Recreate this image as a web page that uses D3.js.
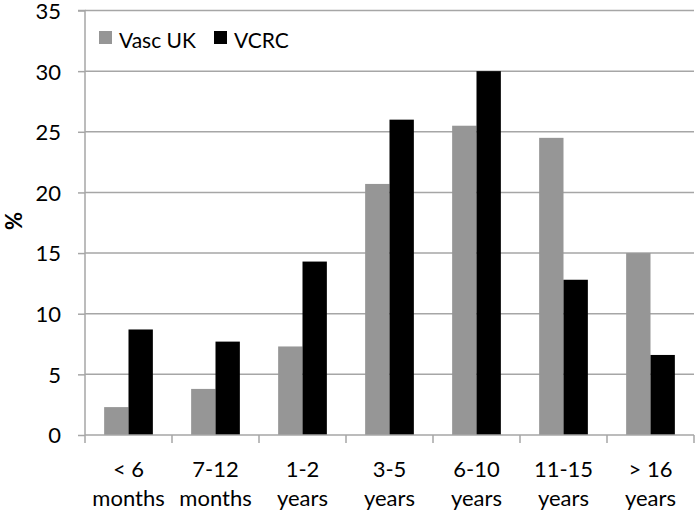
<!DOCTYPE html>
<html><head><meta charset="utf-8">
<script src="https://cdn.jsdelivr.net/npm/d3@7"></script>
<style>body{margin:0;background:#fff}svg{display:block}text{font-family:Lato,"Open Sans",sans-serif;fill:#000}</style>
</head><body><svg id="c" width="700" height="517"></svg>
<script>
const categories = [["< 6","months"],["7-12","months"],["1-2","years"],["3-5","years"],["6-10","years"],["11-15","years"],["> 16","years"]];
const seriesNames = ["Vasc UK","VCRC"];
const vascUK = [2.3, 3.8, 7.3, 20.7, 25.5, 24.5, 15.0];
const vcrc = [8.7, 7.7, 14.3, 26.0, 30.0, 12.8, 6.6];
const yTicks = [0,5,10,15,20,25,30,35];
const colors = ["#969696","#000000"];

const svg = d3.select("#c");
const m = {l:85, r:694, t:10.5, b:435};
const x = d3.scaleBand().domain(d3.range(categories.length)).range([m.l, m.r]).paddingInner(0.44).paddingOuter(0.22);
const x1 = d3.scaleBand().domain([0,1]).range([0, x.bandwidth()]);
const y = d3.scaleLinear().domain([0,35]).range([m.b, m.t]);
const grid = "#a6a6a6";

// gridlines
svg.append("g").selectAll("line").data(yTicks.filter(d=>d>0)).join("line")
  .attr("x1", m.l).attr("x2", m.r).attr("y1", d=>y(d)).attr("y2", d=>y(d))
  .attr("stroke", grid).attr("stroke-width", 1.5);

// y axis
const ya = svg.append("g").attr("transform", `translate(${m.l},0)`)
  .call(d3.axisLeft(y).tickValues(yTicks).tickSize(7).tickPadding(17));
ya.select(".domain").attr("stroke", grid).attr("stroke-width", 1.5).attr("d", `M-7,${y(35)}H0V${m.b}`);
ya.selectAll(".tick line").attr("stroke", grid).attr("stroke-width", 1.5);
ya.selectAll(".tick text").attr("font-size", 22).attr("dy", "0.36em").attr("font-family", "Lato, sans-serif").attr("fill", "#000");

// bars
const data = [vascUK, vcrc];
data.forEach((vals, s) => {
  svg.append("g").selectAll("rect").data(vals).join("rect")
    .attr("x", (d,i)=>x(i)+x1(s)).attr("width", x1.bandwidth())
    .attr("y", d=>y(d)).attr("height", d=>m.b - y(d))
    .attr("fill", colors[s]);
});

// x axis
const xa = svg.append("g").attr("transform", `translate(0,${m.b})`);
xa.append("line").attr("x1", m.l).attr("x2", m.r).attr("stroke", grid).attr("stroke-width", 1.5);
xa.selectAll(".tk").data(d3.range(categories.length+1)).join("line")
  .attr("x1", i=>m.l + i*(m.r-m.l)/categories.length).attr("x2", i=>m.l + i*(m.r-m.l)/categories.length)
  .attr("y1", 0).attr("y2", 8).attr("stroke", grid).attr("stroke-width", 1.5);
const lbl = xa.selectAll(".lb").data(categories).join("text")
  .attr("text-anchor", "middle").attr("font-size", 22)
  .attr("transform", (d,i)=>`translate(${x(i)+x.bandwidth()/2},0)`);
lbl.append("tspan").attr("x", 0).attr("y", 42).text(d=>d[0]);
lbl.append("tspan").attr("x", 0).attr("y", 71).text(d=>d[1]);

// y title
svg.append("text").attr("transform", "translate(22,221) rotate(-90)").attr("text-anchor", "middle")
  .attr("font-size", 22).attr("font-weight", "bold").text("%");

// legend
const leg = svg.append("g");
const legX = [99, 214];
seriesNames.forEach((n, i) => {
  leg.append("rect").attr("x", legX[i]).attr("y", 31).attr("width", 13).attr("height", 13).attr("fill", colors[i]);
  leg.append("text").attr("x", legX[i]+20).attr("y", 48).attr("font-size", 21).text(n);
});
</script></body></html>
